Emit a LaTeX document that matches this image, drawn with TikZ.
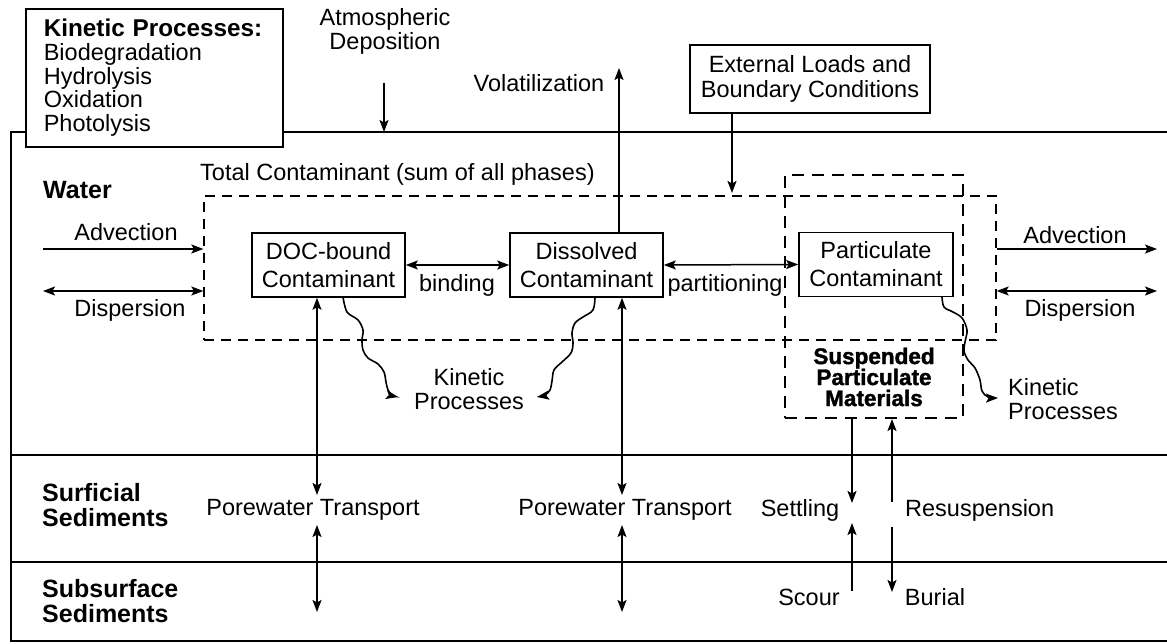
\documentclass[tikz,border=0pt]{standalone}
\usepackage{fontspec}
\setmainfont{Liberation Sans}
\newfontfamily\heavyfont[FakeBold=1.6]{Liberation Sans Bold}
\usetikzlibrary{arrows.meta,calc}
\begin{document}
\begin{tikzpicture}[x=1pt,y=-1pt,
  >={Stealth[length=12pt,width=9pt,inset=2.5pt]},
  txt/.style={inner sep=0pt, font=\fontsize{23.5}{24}\selectfont, align=center},
  btxt/.style={inner sep=0pt, font=\fontsize{25}{25}\selectfont\bfseries, align=left},
  cbox/.style={draw, line width=1.6pt, minimum width=153pt, minimum height=64pt,
    inner sep=0pt, align=center, font=\fontsize{23.5}{28}\selectfont},
  conn/.style={line width=1.5pt},
  wave/.style={line width=1.6pt, ->},
  totbox/.style={draw, dash pattern=on 10pt off 7pt, line width=1.3pt, inner sep=0pt},
  spmbox/.style={draw, dash pattern=on 12pt off 8pt, line width=2pt, inner sep=0pt},
  frame/.style={line width=2.2pt},
  sep/.style={line width=2.6pt}
]
\useasboundingbox (0,0) rectangle (1167,644);

% frame and layer lines
\coordinate (ftr) at (1167,132);
\coordinate (ftl) at (11,132);
\coordinate (fbl) at (11,641);
\coordinate (fbr) at (1167,641);
\draw[frame] (ftr) -- (ftl) -- (fbl) -- (fbr);
\coordinate (s1l) at (11,455); \coordinate (s1r) at (1167,455);
\coordinate (s2l) at (11,562); \coordinate (s2r) at (1167,562);
\draw[sep] (s1l) -- (s1r);
\draw[sep] (s2l) -- (s2r);

% dashed boxes
\node[totbox, minimum width=792pt, minimum height=144pt] (tot) at (600,268) {};
\node[spmbox, minimum width=178pt, minimum height=243pt] (spm) at (874,296.5) {};

% kinetic processes box
\node[draw, fill=white, line width=1.6pt, anchor=north west, minimum width=257pt,
  minimum height=138pt, text width=221pt, inner xsep=18pt, inner ysep=0pt, align=left,
  font=\fontsize{23.5}{23.8}\selectfont] (kin) at (25,8)
  {{\fontsize{24.3}{23.8}\selectfont\bfseries Kinetic Processes:}\\Biodegradation\\Hydrolysis\\Oxidation\\Photolysis};

% atmospheric deposition
\node[txt] (atm) at (385,31) {Atmospheric\\Deposition};
\coordinate (atmtop) at (384,83);
\draw[conn,->] (atmtop) -- (atmtop |- ftl);

% external loads
\node[draw, line width=1.6pt, minimum width=240pt, minimum height=68pt, inner sep=0pt,
  align=center, font=\fontsize{23.5}{25}\selectfont] (ext) at (810,79)
  {External Loads and\\Boundary Conditions};
\coordinate (extend) at (732,193);
\draw[conn,->] (extend |- ext.south) -- (extend);

% total contaminant label
\node[txt, anchor=west] (totlbl) at (200,174) {Total Contaminant (sum of all phases)};

% contaminant boxes
\node[cbox] (doc) at (328.5,265) {DOC-bound\\Contaminant};
\node[cbox] (diss) at (586.5,265) {Dissolved\\Contaminant};
\node[cbox, minimum width=154pt] (part) at (876,264.5) {Particulate\\Contaminant};

% volatilization
\node[txt] (vol) at (539,83) {Volatilization};
\coordinate (voltop) at (619,68);
\draw[conn,->] (voltop |- diss.north) -- (voltop);

% binding and partitioning
\draw[conn,<->] (doc.east) -- (diss.west);
\node[txt] (bind) at (457,285) {binding};
\draw[conn,<->] (diss.east) -- (part.west);
\node[txt] (parti) at (725,285) {partitioning};

% water label and advection/dispersion
\node[btxt, anchor=west] (water) at (43,190) {Water};
\coordinate (advL) at (43,249);
\coordinate (dispL) at (43,291);
\draw[conn,->] (advL) -- (advL -| tot.west);
\draw[conn,<->] (dispL) -- (dispL -| tot.west);
\node[txt] (advLt) at (126,232) {Advection};
\node[txt] (dispLt) at (130,310) {Dispersion};
\coordinate (advR) at (1157,249);
\coordinate (dispR) at (1157,291);
\draw[conn,->] (advR -| tot.east) -- (advR);
\draw[conn,<->] (dispR -| tot.east) -- (dispR);
\node[txt] (advRt) at (1075,235) {Advection};
\node[txt] (dispRt) at (1080,310) {Dispersion};

% kinetic processes (wavy)
\node[txt] (kp1) at (469,389) {Kinetic\\Processes};
\node[txt, anchor=west, align=left] (kp2) at (1008,399) {Kinetic\\Processes};
\draw[wave] plot[smooth, tension=0.55] coordinates {(343,297) (347,312) (358,320) (363,330) (362,340) (363,350) (368,358) (378,364) (384,372) (386,382) (388,390) (392,395) (398,397)};
\draw[wave] plot[smooth, tension=0.55] coordinates {(595,297) (593,310) (583,317) (575,323) (572,333) (573,343) (571,353) (562,362) (554,370) (552,381) (550,390) (545,395) (537,397)};
\draw[wave] plot[smooth, tension=0.55] coordinates {(942,297) (944,307) (953,312) (962,318) (967,330) (965,342) (964,351) (968,360) (975,368) (980,380) (982,391) (988,397) (998,398)};

% suspended particulate materials
\node[inner sep=0pt, align=center, font=\fontsize{22.5}{21}\heavyfont] (spmt) at (874,377)
  {Suspended\\Particulate\\Materials};

% sediments labels
\node[btxt, anchor=west] (surf) at (42,505) {Surficial\\Sediments};
\node[btxt, anchor=west] (subs) at (42,601) {Subsurface\\Sediments};

% porewater transport
\node[txt] (pw1) at (313,510) {Porewater Transport};
\node[txt] (pw2) at (625,510) {Porewater Transport};
\coordinate (pw1a) at (317,495); \coordinate (pw1b) at (317,525); \coordinate (pw1c) at (317,612);
\coordinate (pw2a) at (622,495); \coordinate (pw2b) at (622,525); \coordinate (pw2c) at (622,612);
\draw[conn,<->] (pw1a |- doc.south) -- (pw1a);
\draw[conn,<->] (pw1b) -- (pw1c);
\draw[conn,<->] (pw2a |- diss.south) -- (pw2a);
\draw[conn,<->] (pw2b) -- (pw2c);

% settling / resuspension / scour / burial
\node[txt] (settl) at (800,510) {Settling};
\node[txt, anchor=west] (resus) at (905,510) {Resuspension};
\node[txt] (scour) at (809,597) {Scour};
\node[txt] (burial) at (935,597) {Burial};
\coordinate (setb) at (852,503);
\coordinate (rest) at (892,502);
\coordinate (scb) at (852,591); \coordinate (sct) at (852,523);
\coordinate (bur) at (892,527); \coordinate (burb) at (892,592);
\draw[conn,->] (setb |- spm.south) -- (setb);
\draw[conn,->] (rest) -- (rest |- spm.south);
\draw[conn,->] (scb) -- (sct);
\draw[conn,->] (bur) -- (burb);
\end{tikzpicture}
\end{document}
